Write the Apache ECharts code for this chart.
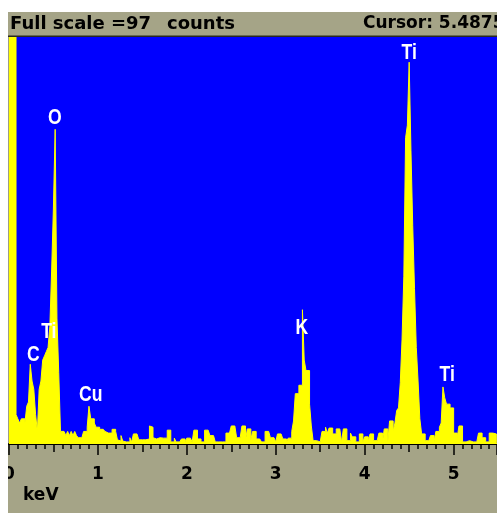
<!DOCTYPE html>
<html><head><meta charset="utf-8">
<script src="https://cdn.jsdelivr.net/npm/echarts@6.0.0/dist/echarts.min.js"></script>
<style>html,body{margin:0;padding:0;background:#fff}#c{width:497px;height:513px}</style>
</head><body><div id="c"></div>
<script>
// EDS spectrum, 0.02 keV channels starting at 0 keV
const channelWidthKeV = 0.02;
const counts = [
  97,97,97,97,7,6,5,6,6,5,
  9,10,19,15,13,7,3,13,15,20,
  21,22,23,28,41,56,75,30,17,3,
  3,3,2,3,2,3,2,3,2,1.5,
  1.5,1.5,3,3,4,9,6,6,5,4,
  4,3.5,3.5,3.5,3,2.6,2.6,2.6,3.5,3.5,
  3,1,0.7,2,0.7,0.5,0.5,0.5,1.5,0.5,
  2.4,2.4,2.4,1,1,0.6,1,1,1.2,4.3,
  4,1.5,1.2,1,1.5,1.4,1.4,1.4,1.4,3.3,
  3.3,0.5,0.5,1.4,0.5,0.5,0.5,1.2,1.2,0.5,
  1.4,1.4,1.4,0.5,3.3,3.3,1.2,1.2,0.5,0.5,
  3.3,3.3,3,2,2,2,0.5,0.5,0.5,0.5,
  0.5,0.5,2.6,2.6,2.6,4.3,4.3,4.3,1.5,1.5,
  1.5,4.3,4.3,0.8,3.6,3.6,1,3,3,1.2,
  1.2,1.2,0.5,0.5,3,3,3,1.5,1.5,1.5,
  0.5,2.4,2.4,2.4,1.2,1.2,0.5,1.4,1.4,3,
  5.5,12,12,14,14,32,20,17.5,17.5,9.5,
  4.3,0.8,0.8,0.5,0.5,0.5,3,3,4,2.6,
  3.8,3.8,2.4,2.4,3.6,3.6,3.6,0.5,3.6,3.6,
  0.8,0.8,2.6,1.7,1.7,0.5,0.5,2.4,2.4,0.5,
  1.7,1.7,0.5,2.4,2.4,0.8,0.8,0.5,2.6,2.6,
  0.5,3.6,3.6,0.5,5.5,5.5,3,5,8,8.6,
  14.6,25,40,73,76,91,70,52,37,23,
  15,6,2.4,2.4,0.8,0.8,0.5,2,2,0.5,
  3,3,4,5,13.6,11,9.5,9.5,8.6,8.6,
  2.6,2.6,1.5,4.3,4.3,0.5,0.5,0.8,0.8,0.5,
  0.5,0.5,0.5,0.5,2.6,2.6,1.5,1.5,0.5,0.5,
  2.6,2.6,2.4,2.4,0.5
];
const fullScale = 97;
const cursorKeV = 5.4875;
const peakNames = ['C','Ti','O','Cu','K','Ti','Ti'];
const peakLabelKeV = [0.275,0.449,0.516,0.92,3.294,4.50,4.927];
const peakLabelCounts = [21.2,26.8,77.6,11.7,27.6,93.3,16.4];

const spectrum = counts.map((v,i)=>[i*channelWidthKeV, v]);
spectrum.push([counts.length*channelWidthKeV, counts[counts.length-1]]);

const chart = echarts.init(document.getElementById('c'), null, {renderer:'canvas'});
const tickFont = {color:'#000', fontFamily:'DejaVu Sans', fontWeight:'bold', fontSize:17};
const headFont = 'bold 18px "DejaVu Sans"';
chart.setOption({
  animation:false,
  backgroundColor:'#a5a487',
  grid:{left:8, top:37, width:489, height:407, show:true, backgroundColor:'#0000ff', borderWidth:0},
  xAxis:[{
    type:'value', min:0, max:cursorKeV, interval:1, position:'bottom',
    axisLine:{show:true, onZero:false, lineStyle:{color:'#000', width:2}},
    axisTick:{show:true, length:11, lineStyle:{color:'#000', width:1.5}},
    minorTick:{show:true, splitNumber:10, length:5, lineStyle:{color:'#000', width:1.5}},
    splitLine:{show:false}, minorSplitLine:{show:false},
    axisLabel:Object.assign({margin:22, showMaxLabel:false}, tickFont)
  },{
    type:'value', min:0, max:cursorKeV, interval:0.5, position:'bottom',
    axisLine:{show:false, onZero:false},
    axisTick:{show:true, length:8, lineStyle:{color:'#000', width:1.5}},
    axisLabel:{show:false}, splitLine:{show:false}
  }],
  yAxis:{type:'value', min:0, max:fullScale, show:false, splitLine:{show:false}},
  series:[{
    type:'line', step:'end', data:spectrum, symbol:'none', clip:true,
    lineStyle:{color:'#ffff00', width:1},
    areaStyle:{color:'#ffff00', opacity:1}
  }]
});

const graphics = [
  {type:'rect', z:100, shape:{x:0,y:0,width:8,height:513}, style:{fill:'#fff'}},
  {type:'rect', z:100, shape:{x:0,y:0,width:497,height:12}, style:{fill:'#fff'}},
  {type:'rect', z:100, shape:{x:8,y:35.5,width:489,height:1.5}, style:{fill:'#2a2a20'}},
  {type:'text', z:100, x:10, y:24, style:{text:'Full scale =' + fullScale, fill:'#000', font:headFont, textVerticalAlign:'middle'}},
  {type:'text', z:100, x:167, y:24, style:{text:'counts', fill:'#000', font:headFont, textVerticalAlign:'middle'}},
  {type:'text', z:100, x:363, y:24, style:{text:'Cursor: ' + cursorKeV, fill:'#000', font:'bold 17px "DejaVu Sans"', textVerticalAlign:'middle'}},
  {type:'text', z:100, x:23, y:496, style:{text:'keV', fill:'#000', font:'bold 17px "DejaVu Sans"', textVerticalAlign:'middle'}}
];
peakNames.forEach((n,i)=>{
  const p = chart.convertToPixel({xAxisIndex:0, yAxisIndex:0}, [peakLabelKeV[i], peakLabelCounts[i]]);
  graphics.push({type:'text', z:50, x:p[0], y:p[1], scaleX:0.8,
    style:{text:n, fill:'#fff', font:'bold 22px "Liberation Sans"', textAlign:'center', textVerticalAlign:'middle'}});
});
chart.setOption({graphic:graphics});
</script></body></html>
